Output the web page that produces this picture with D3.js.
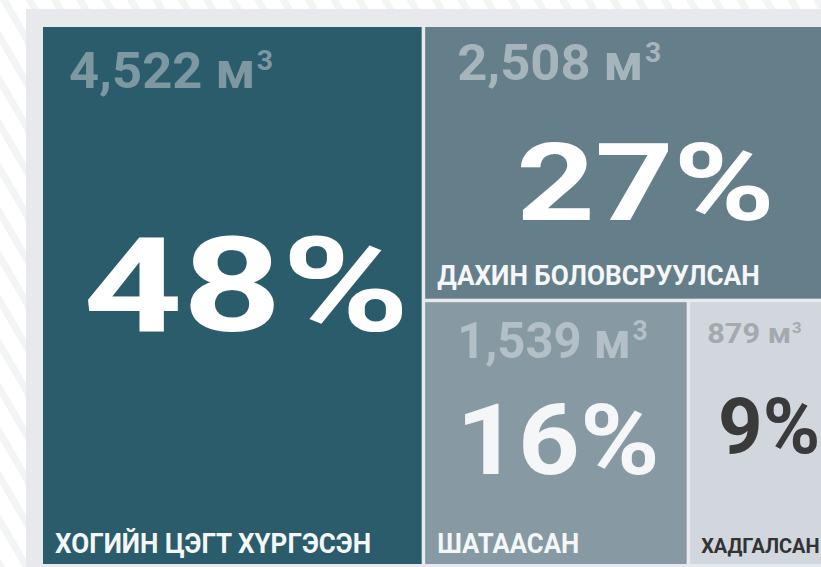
<!DOCTYPE html>
<html><head><meta charset="utf-8">
<script src="https://cdn.jsdelivr.net/npm/d3@7"></script>
<style>
html,body{margin:0;padding:0;background:#fff;overflow:hidden;}
svg{display:block;}
text{font-family:Roboto,"Noto Sans",sans-serif;font-weight:700;}
</style></head>
<body>
<svg id="chart" width="821" height="567"></svg>
<script>
// Data
const categories = ["ХОГИЙН ЦЭГТ ХҮРГЭСЭН", "ДАХИН БОЛОВСРУУЛСАН", "ШАТААСАН", "ХАДГАЛСАН"];
const volumes = [4522, 2508, 1539, 879];           // м³
const percentLabels = ["48%", "27%", "16%", "9%"];
const volumeLabels = ["4,522 м", "2,508 м", "1,539 м", "879 м"];
const unitSup = "3";

// Styles per category (index-aligned)
const fills = ["#2a5c6b", "#647f8a", "#8799a3", "#d1d7dc"];
const volColors = ["#7e98a2", "#a6b5bc", "#b3c0c7", "#a4a9ae"];
const pctColors = ["#ffffff", "#ffffff", "#f4f6f7", "#3a3a3a"];
const catColors = ["#f4f6f7", "#f4f6f7", "#f4f6f7", "#333333"];
const volSize = [50, 50, 50, 28];
const pctSize = [131, 108, 98, 77];
const catSize = [28, 27, 28, 21];
const volOff = [[26, 61], [32, 53], [32, 56], [17, 41]];
const pctDx = [14, 14, 2, 5];
const pctDy = [-9, 20, 7, -6];
const pctSx = [1.32, 1.27, 1.1, 1.01];
const catSx = [0.93, 0.97, 0.92, 0.95];
const volSx = [1.05, 1.05, 0.98, 1.1];
const catOff = [[12, -11], [12, -14], [12, -11], [11, -11]];

const svg = d3.select("#chart");
const W = 821, H = 567;

// striped background
const defs = svg.append("defs");
const pat = defs.append("pattern").attr("id", "stripes")
  .attr("patternUnits", "userSpaceOnUse").attr("width", 22).attr("height", 22)
  .attr("patternTransform", "rotate(-30)");
pat.append("rect").attr("width", 22).attr("height", 22).attr("fill", "#ffffff");
pat.append("rect").attr("width", 7).attr("height", 22).attr("fill", "#f3f4f5");
svg.append("rect").attr("width", W).attr("height", H).attr("fill", "url(#stripes)");

// panel
svg.append("rect").attr("x", 26).attr("y", 9).attr("width", W).attr("height", H)
  .attr("fill", "#e7e9ec");

// hierarchy: slice-dice nesting
const nodesData = categories.map((c, i) => ({name: c, value: volumes[i], idx: i}));
const tree = {name: "root", children: [
  nodesData[0],
  {name: "g1", children: [
    nodesData[1],
    {name: "g2", children: [nodesData[2], nodesData[3]]}
  ]}
]};
const root = d3.hierarchy(tree).sum(d => d.value || 0);
d3.treemap().tile(d3.treemapSliceDice).paddingInner(3.5)
  .size([795, 537])(root);

const leaves = root.leaves();
const plot = svg.append("g").attr("transform", "translate(43,27)");
const g = plot.selectAll("g.cell").data(leaves).join("g").attr("class", "cell");

g.append("rect")
  .attr("x", d => d.x0).attr("y", d => d.y0)
  .attr("width", d => d.x1 - d.x0).attr("height", d => d.y1 - d.y0)
  .attr("fill", d => fills[d.data.idx]);

const vt = g.append("text")
  .attr("transform", d => `translate(${d.x0 + volOff[d.data.idx][0]},${d.y0 + volOff[d.data.idx][1]}) scale(${volSx[d.data.idx]},1)`)
  .attr("font-size", d => volSize[d.data.idx])
  .attr("fill", d => volColors[d.data.idx]);
vt.append("tspan").text(d => volumeLabels[d.data.idx]);
vt.append("tspan")
  .attr("font-size", d => volSize[d.data.idx] * 0.54)
  .attr("dx", d => volSize[d.data.idx] * 0.03)
  .attr("dy", d => -volSize[d.data.idx] * 0.36)
  .text(unitSup);

g.append("text")
  .attr("transform", d => `translate(${(d.x0 + d.x1) / 2 + pctDx[d.data.idx]},${(d.y0 + d.y1) / 2 + pctDy[d.data.idx]}) scale(${pctSx[d.data.idx]},1)`)
  .attr("text-anchor", "middle").attr("dominant-baseline", "central")
  .attr("font-size", d => pctSize[d.data.idx])
  .attr("fill", d => pctColors[d.data.idx])
  .text(d => percentLabels[d.data.idx]);

g.append("text")
  .attr("transform", d => `translate(${d.x0 + catOff[d.data.idx][0]},${d.y1 + catOff[d.data.idx][1]}) scale(${catSx[d.data.idx]},1)`)
  .attr("font-size", d => catSize[d.data.idx])
  .attr("fill", d => catColors[d.data.idx])
  .text(d => d.data.name);
</script>
</body></html>
